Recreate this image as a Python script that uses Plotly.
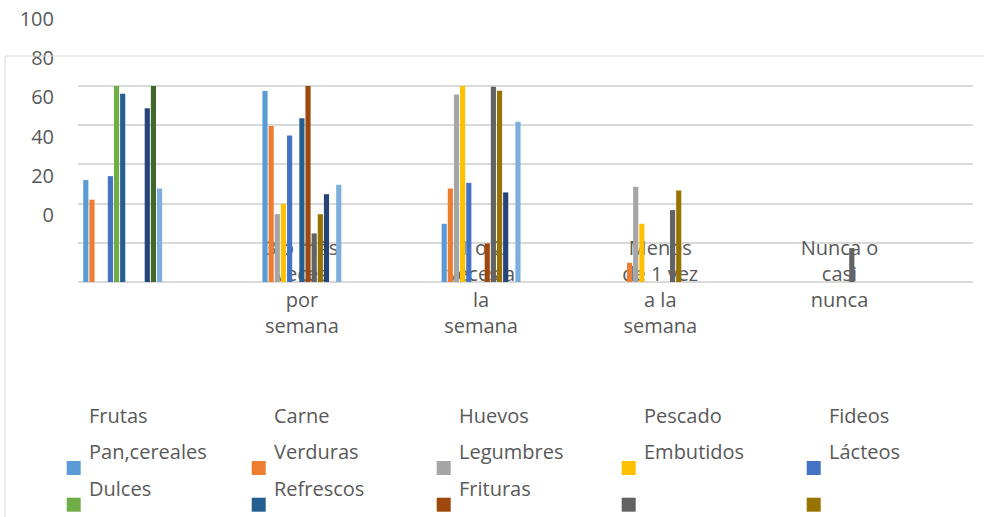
import plotly.graph_objects as go

# Frecuencia de consumo por grupo de alimentos (lectura aproximada del gráfico)
categories = ["", "3 o más<br>veces<br>por<br>semana", "1 o 2<br>veces a<br>la<br>semana",
              "Menos<br>de 1 vez<br>a la<br>semana", "Nunca o<br>casi<br>nunca"]
series_names = ["Frutas", "Carne", "Huevos", "Pescado", "Fideos",
                "Pan,cereales", "Verduras", "Legumbres", "Embutidos", "Lácteos",
                "Dulces", "Refrescos", "Frituras"]
frutas = [52, 97.5, 29.7, 0, 0]
carne = [42, 79.6, 47.7, 9.8, 0]
huevos = [0, 34.6, 95.6, 48.6, 0]
pescado = [0, 39.9, 100, 29.7, 0]
fideos = [54, 74.7, 50.6, 0, 0]
pan_cereales = [100, 0, 0, 0, 0]
verduras = [96, 83.5, 0, 0, 0]
legumbres = [0, 100, 19.7, 0, 0]
embutidos = [0, 24.8, 99.6, 36.7, 17.3]
lacteos = [0, 34.6, 97.6, 46.7, 0]
dulces = [88.6, 44.8, 45.7, 0, 0]
refrescos = [100, 0, 0, 0, 0]
frituras = [47.7, 49.6, 81.7, 0, 0]
y_ticks = [0, 20, 40, 60, 80, 100]

values = [frutas, carne, huevos, pescado, fideos, pan_cereales, verduras,
          legumbres, embutidos, lacteos, dulces, refrescos, frituras]
colors = ["#5B9BD5", "#ED7D31", "#A5A5A5", "#FFC000", "#4472C4", "#70AD47",
          "#255E91", "#9E480E", "#636363", "#997300", "#264478", "#43682B", "#7CAFDD"]

W, H = 984, 517
ML, MR, MT, MB = 78, 11, 84, 235
FONT = "Open Sans"
GREY_TXT = "#595959"
GRID = "#D9D9D9"
Y_TOP = 100 * (H - MB - MT) / (H - MB - 86)  # 100 cae en y=86 px


def px(x):
    return (x - ML) / (W - ML - MR)


def py(y):
    return (H - MB - y) / (H - MT - MB)


idx = list(range(len(categories)))
fig = go.Figure()
for name, vals, col in zip(series_names, values, colors):
    fig.add_trace(go.Bar(x=idx, y=[min(v, 100) for v in vals], name=name,
                         marker_color=col, showlegend=False))

shapes = [
    dict(type="line", xref="paper", yref="paper", x0=px(5), x1=px(984),
         y0=py(56), y1=py(56), line=dict(color=GRID, width=1)),
    dict(type="line", xref="paper", yref="paper", x0=px(5), x1=px(5),
         y0=py(56), y1=py(517), line=dict(color=GRID, width=1)),
]
annotations = []
# leyenda: textos y marcadores desalineados una fila
for i, (name, col) in enumerate(zip(series_names, colors)):
    c, r = i % 5, i // 5
    annotations.append(dict(text=name, xref="paper", yref="paper",
                            x=px(87 + 185 * c), y=py(415 + 36.5 * r),
                            xanchor="left", yanchor="middle", showarrow=False,
                            font=dict(family=FONT, size=20, color=GREY_TXT)))
    my = 468 + 36.7 * r
    if my + 7 <= H:
        shapes.append(dict(type="rect", xref="paper", yref="paper",
                           x0=px(66.7 + 185 * c), x1=px(80.7 + 185 * c),
                           y0=py(my - 7), y1=py(my + 7),
                           fillcolor=col, line=dict(width=0)))

fig.update_layout(
    template="none",
    width=W, height=H,
    margin=dict(l=ML, r=MR, t=MT, b=MB, autoexpand=False),
    paper_bgcolor="white", plot_bgcolor="white",
    barmode="group", bargap=0.554, bargroupgap=0.16,
    font=dict(family=FONT, size=20, color=GREY_TXT),
    xaxis=dict(range=[-0.2494, 4.745], tickmode="array", tickvals=idx,
               ticktext=categories, showgrid=False, zeroline=False,
               showline=False, ticks="", layer="below traces",
               ticklabelstandoff=-48, automargin=False,
               tickfont=dict(family=FONT, size=20, color=GREY_TXT)),
    # etiquetas del eje Y desplazadas hacia arriba, como en el original
    yaxis=dict(range=[0, Y_TOP], tickvals=y_ticks,
               showgrid=True, gridcolor=GRID,
               gridwidth=1.5, zeroline=True, zerolinecolor=GRID,
               zerolinewidth=1.5, showline=False, ticks="", automargin=False,
               ticklabelshift=-67, ticklabelstandoff=23,
               tickfont=dict(family=FONT, size=20, color=GREY_TXT)),
    shapes=shapes,
    annotations=annotations,
)

fig.write_html("out.html", config={"displayModeBar": False},
               post_script="document.body.style.margin='0';")
